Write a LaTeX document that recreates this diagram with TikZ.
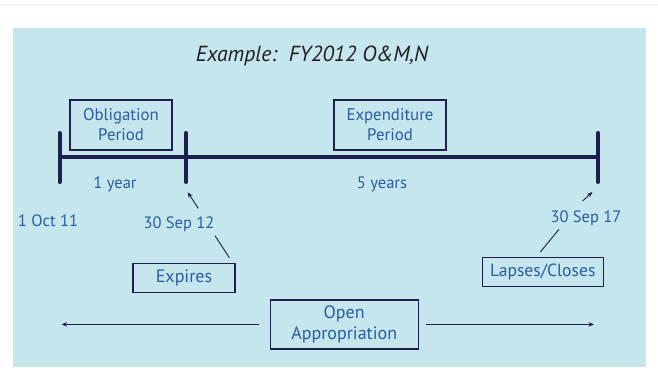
\documentclass[tikz,border=0pt]{standalone}
\usepackage{fontspec}
\setmainfont{PT Sans}
\usetikzlibrary{arrows.meta}
\definecolor{bgblue}{HTML}{C4E6EC}
\definecolor{navy}{HTML}{1D204F}
\definecolor{textblue}{HTML}{2A5CA4}
\definecolor{titlec}{HTML}{231F20}
\definecolor{topline}{HTML}{F2F2F2}
\begin{document}
\begin{tikzpicture}[x=1pt,y=-1pt,
  box/.style={draw=navy, line width=1.2pt, text=textblue, inner sep=0pt, align=center},
  lbl/.style={text=textblue, inner sep=0pt, font=\fontsize{16.5}{20}\selectfont},
  conn/.style={draw=navy, line width=0.9pt},
  arr/.style={conn, -{Stealth[length=5.5pt,width=4.5pt]}},
  axis/.style={draw=navy, line width=4pt},
  tickline/.style={draw=navy, line width=4pt, line cap=round}]
\useasboundingbox (0,0) rectangle (658,384);
\fill[bgblue] (13,28) rectangle (646,367);
\draw[topline, line width=1.5pt] (0,5) -- (658,5);

% title
\node[font=\itshape\fontsize{21.8}{25}\selectfont, text=titlec, anchor=base, inner sep=0pt] (title) at (312,61.7) {Example:\ \ FY2012 O\&M,N};

% timeline
\coordinate (t0) at (59.5,157);
\coordinate (t1) at (186,157);
\coordinate (t2) at (598,157);
\coordinate (t0a) at (59.5,133); \coordinate (t0b) at (59.5,182);
\coordinate (t1a) at (186,133); \coordinate (t1b) at (186,182);
\coordinate (t2a) at (598,133); \coordinate (t2b) at (598,182);
\draw[axis] (t0) -- (t2);
\draw[tickline] (t0a) -- (t0b);
\draw[tickline] (t1a) -- (t1b);
\draw[tickline] (t2a) -- (t2b);

% period boxes
\node[box, minimum width=102pt, minimum height=50pt, font=\fontsize{16.8}{20}\selectfont] (oblig) at (121,125) {Obligation\\Period};
\node[box, minimum width=112pt, minimum height=50pt, font=\fontsize{16.8}{20}\selectfont] (expend) at (390,125) {Expenditure\\Period};

% durations
\node[lbl, anchor=base] (oneyear) at (115,188.3) {1 year};
\node[lbl, anchor=base] (fiveyears) at (382,188.3) {5 years};

% dates
\node[lbl, anchor=base] (d11) at (48,226) {1 Oct 11};
\node[lbl, anchor=base] (d12) at (179,228.3) {30 Sep 12};
\node[lbl, anchor=base] (d17) at (586,222.3) {30 Sep 17};

% event boxes
\node[box, minimum width=102pt, minimum height=29pt, font=\fontsize{18}{21}\selectfont] (expires) at (184,277.7) {Expires};
\node[box, minimum width=121pt, minimum height=29pt, font=\fontsize{17.6}{21}\selectfont] (lapses) at (542.7,272.2) {Lapses/Closes};
\node[box, minimum width=148pt, minimum height=49pt, font=\fontsize{18}{21.7}\selectfont] (open) at (344.2,324.4) {Open\\Appropriation};

% pointers
\coordinate (p12a) at (198.3,208.3); \coordinate (p12b) at (187.7,192.3);
\coordinate (p12c) at (215,235.7);   \coordinate (p12d) at (229.3,257.7);
\draw[arr] (p12a) -- (p12b);
\draw[conn] (p12c) -- (p12d);
\coordinate (p17a) at (582.7,201); \coordinate (p17b) at (592.3,192);
\coordinate (p17c) at (559,229.3); \coordinate (p17d) at (540.3,252);
\draw[arr] (p17a) -- (p17b);
\draw[conn] (p17c) -- (p17d);

% open appropriation arrows
\coordinate (la) at (61.7,324.4);
\coordinate (ra) at (594,324.4);
\draw[arr, shorten <=10.5pt] (open) -- (la);
\draw[arr, shorten <=6.8pt] (open) -- (ra);
\end{tikzpicture}
\end{document}
